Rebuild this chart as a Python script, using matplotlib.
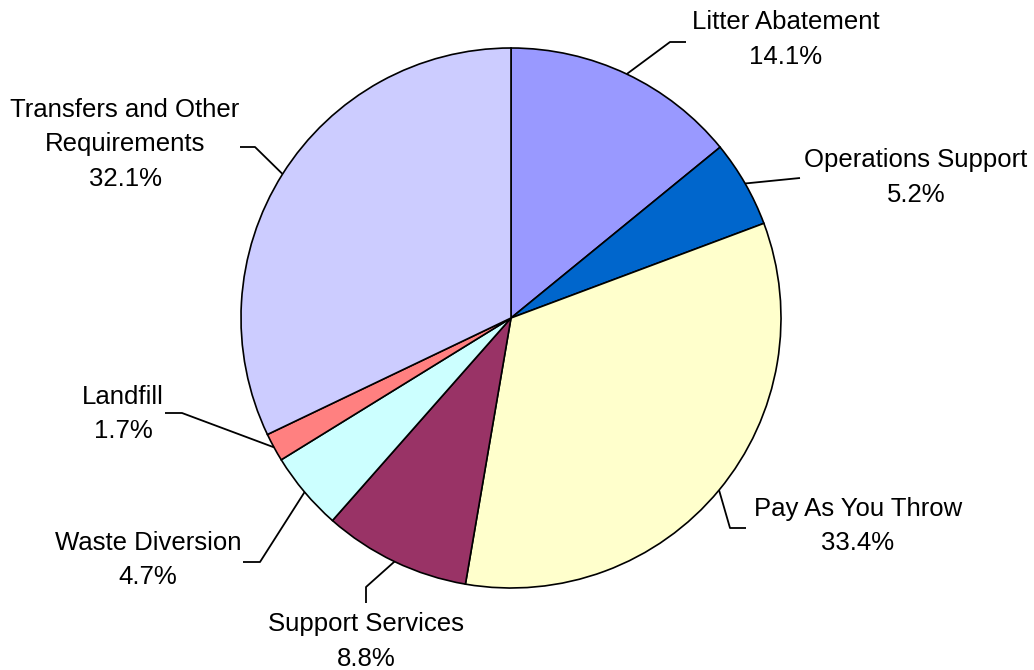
import numpy as np
import matplotlib
matplotlib.use("Agg")
import matplotlib.pyplot as plt

# Budget shares by program (percent), clockwise from 12 o'clock
categories = ["Litter Abatement", "Operations Support", "Pay As You Throw",
              "Support Services", "Waste Diversion", "Landfill",
              "Transfers and Other\nRequirements"]
shares = [14.1, 5.2, 33.4, 8.8, 4.7, 1.7, 32.1]
colors = ["#9999FF", "#0066CC", "#FFFFCC", "#993366", "#CCFFFF", "#FF8080", "#CCCCFF"]

W, H = 1034, 670
fig = plt.figure(figsize=(W / 100, H / 100), dpi=100)
ax = fig.add_axes([0, 0, 1, 1])

def py(y):
    """Convert a top-down pixel row to the axes' bottom-up y."""
    return H - y

cx, cy, r = 511, py(318), 270
wedges, _ = ax.pie(shares, colors=colors, startangle=90, counterclock=False,
                   center=(cx, cy), radius=r, frame=True,
                   wedgeprops=dict(edgecolor="black", linewidth=1.2))
ax.set_xlim(0, W)
ax.set_ylim(0, H)
ax.axis("off")

# Leader elbows / ends and label anchors (pixel rows, top-down)
leaders = [
    [(670, 42), (686, 42)],
    [(800, 178)],
    [(730, 528), (746, 528)],
    [(366, 587), (366, 603)],
    [(260, 562), (243, 562)],
    [(182, 413), (165, 413)],
    [(255, 147), (240, 147)],
]
label_pos = [(786, 22), (916, 160), (858, 509), (366, 624),
             (148, 543), (123, 397), (125, 110)]
line_gap = 34.5

for w, pts, (lx, ly), name, val in zip(wedges, leaders, label_pos, categories, shares):
    mid = np.deg2rad((w.theta1 + w.theta2) / 2)
    ex, ey = cx + r * np.cos(mid), cy + r * np.sin(mid)
    xs = [ex] + [p[0] for p in pts]
    ys = [ey] + [py(p[1]) for p in pts]
    ax.plot(xs, ys, color="black", lw=1.3, solid_capstyle="butt")
    lines = name.split("\n") + [f"{val:.1f}%"]
    for i, t in enumerate(lines):
        ax.text(lx, py(ly + i * line_gap), t, ha="center", va="center",
                fontsize=18.5, family="Liberation Sans", color="black")

fig.savefig("out.png", dpi=100)
